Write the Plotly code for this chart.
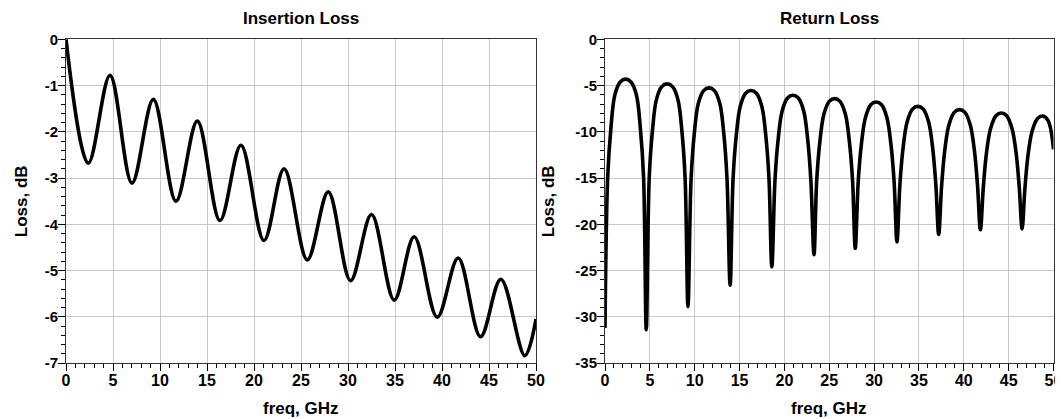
import plotly.graph_objects as go

# ---------------- data ----------------
# Insertion loss: extrema of the ripple (GHz, dB)
il_freq = [0, 2.37, 4.68, 7.02, 9.29, 11.7, 13.97, 16.38, 18.61, 21.06, 23.2,
           25.67, 27.9, 30.27, 32.5, 34.92, 37.04, 39.49, 41.72, 44.1, 46.26,
           48.81, 50]
il_db = [0, -2.68, -0.78, -3.11, -1.30, -3.50, -1.77, -3.92, -2.29, -4.35, -2.80,
         -4.77, -3.30, -5.22, -3.79, -5.64, -4.27, -6.01, -4.73, -6.43, -5.19,
         -6.84, -6.05]

# Return loss: nulls, arch sides and arch tops (GHz, dB)
rl_freq = [0.0,
           0.3, 0.65, 1.1, 1.7, 2.3, 2.9, 3.5, 3.95, 4.3, 4.6,
           4.93, 5.28, 5.73, 6.33, 6.93, 7.53, 8.13, 8.58, 8.93, 9.25,
           9.6, 9.95, 10.4, 11.0, 11.6, 12.2, 12.8, 13.25, 13.6, 13.95,
           14.28, 14.63, 15.08, 15.68, 16.28, 16.88, 17.48, 17.93, 18.28, 18.6,
           18.95, 19.3, 19.75, 20.35, 20.95, 21.55, 22.15, 22.6, 22.95, 23.3,
           23.6, 23.95, 24.4, 25.0, 25.6, 26.2, 26.8, 27.25, 27.6, 27.9,
           28.23, 28.58, 29.03, 29.63, 30.23, 30.83, 31.43, 31.88, 32.23, 32.55,
           32.88, 33.23, 33.68, 34.28, 34.88, 35.48, 36.08, 36.53, 36.88, 37.2,
           37.53, 37.88, 38.33, 38.93, 39.53, 40.13, 40.73, 41.18, 41.53, 41.85,
           42.18, 42.53, 42.98, 43.58, 44.18, 44.78, 45.38, 45.83, 46.18, 46.5,
           46.8, 47.15, 47.6, 48.2, 48.8, 49.4, 50.0]
rl_db = [-31.2,
         -14.9, -9.7, -6.01, -4.61, -4.31, -4.61, -6.01, -9.7, -14.9, -31.4,
         -15.0, -10.0, -6.52, -5.12, -4.82, -5.12, -6.52, -10.0, -15.0, -28.9,
         -15.05, -10.25, -6.95, -5.55, -5.25, -5.55, -6.95, -10.25, -15.05, -26.6,
         -15.04, -10.44, -7.24, -5.84, -5.54, -5.84, -7.24, -10.44, -15.04, -24.6,
         -15.25, -10.85, -7.75, -6.35, -6.05, -6.35, -7.75, -10.85, -15.25, -23.3,
         -15.31, -11.11, -8.11, -6.71, -6.41, -6.71, -8.11, -11.11, -15.31, -22.6,
         -15.38, -11.38, -8.48, -7.08, -6.78, -7.08, -8.48, -11.38, -15.38, -21.9,
         -15.65, -11.75, -8.95, -7.55, -7.25, -7.55, -8.95, -11.75, -15.65, -21.1,
         -15.8, -12.0, -9.3, -7.9, -7.6, -7.9, -9.3, -12.0, -15.8, -20.6,
         -15.97, -12.27, -9.67, -8.27, -7.97, -8.27, -9.67, -12.27, -15.97, -20.5,
         -16.3, -12.6, -10.0, -8.6, -8.3, -8.8, -11.9]

x_tickvals = [0, 5, 10, 15, 20, 25, 30, 35, 40, 45, 50]
x_ticktext = ["0", "5", "10", "15", "20", "25", "30", "35", "40", "45", "50"]
il_tickvals = [0, -1, -2, -3, -4, -5, -6, -7]
il_ticktext = ["0", "-1", "-2", "-3", "-4", "-5", "-6", "-7"]
rl_tickvals = [0, -5, -10, -15, -20, -25, -30, -35]
rl_ticktext = ["0", "-5", "-10", "-15", "-20", "-25", "-30", "-35"]

titles = ["Insertion Loss", "Return Loss"]
x_title = "freq, GHz"
y_title = "Loss, dB"

# ---------------- figure ----------------
# the page body has an 8 px margin, so the figure sits at (8, 8) in the window
OFF = 8
W, H = 1063 - OFF, 419 - OFF
FONT = "Arial, 'Liberation Sans', sans-serif"

fig = go.Figure()
fig.add_trace(go.Scatter(x=il_freq, y=il_db, mode="lines",
                         line=dict(color="#000000", width=3.6, shape="spline", smoothing=1),
                         xaxis="x", yaxis="y", showlegend=False, hoverinfo="x+y"))
fig.add_trace(go.Scatter(x=rl_freq, y=rl_db, mode="lines",
                         line=dict(color="#000000", width=3.6, shape="spline", smoothing=1),
                         xaxis="x2", yaxis="y2", showlegend=False, hoverinfo="x+y"))

# plot areas in window pixels -> figure pixels
L1, R1 = 66 - OFF, 536 - OFF
L2, R2 = 605 - OFF, 1053.5 - OFF
TOP, BOT = 39.3 - OFF, 363 - OFF

def px(x):
    return x / W

def py(y):
    return (H - y) / H

ydom = [py(BOT), py(TOP)]

common_x = dict(range=[0, 50], tickmode="array", tickvals=x_tickvals, ticktext=x_ticktext,
                ticks="outside", ticklen=7, tickwidth=1, tickcolor="#000",
                minor=dict(dtick=1, tick0=0, ticks="outside", ticklen=4, tickcolor="#000", showgrid=False),
                showgrid=True, gridcolor="#c8c8c8", gridwidth=1,
                showline=True, linecolor="#333", linewidth=1, mirror=True,
                zeroline=False, automargin=False, ticklabelstandoff=-4,
                tickfont=dict(family=FONT, size=16, color="#000", weight="bold"),
                fixedrange=True)
common_y = dict(ticks="outside", ticklen=7, tickwidth=1, tickcolor="#000",
                showgrid=True, gridcolor="#c8c8c8", gridwidth=1,
                showline=True, linecolor="#333", linewidth=1, mirror=True,
                zeroline=False, automargin=False, ticklabelstandoff=-3,
                tickfont=dict(family=FONT, size=15, color="#000", weight="bold"),
                fixedrange=True)

tfont = dict(family=FONT, size=17, color="#000", weight="bold")
annotations = [
    dict(text=titles[0], x=px((L1 + R1) / 2), y=py(18.6 - OFF), xanchor="center", yanchor="middle"),
    dict(text=titles[1], x=px((L2 + R2) / 2), y=py(18.6 - OFF), xanchor="center", yanchor="middle"),
    dict(text=x_title, x=px((L1 + R1) / 2), y=py(408.5 - OFF), xanchor="center", yanchor="middle"),
    dict(text=x_title, x=px((L2 + R2) / 2), y=py(408.5 - OFF), xanchor="center", yanchor="middle"),
    dict(text=y_title, x=px(21 - OFF), y=py((TOP + BOT) / 2), xanchor="center", yanchor="middle",
         textangle=-90),
    dict(text=y_title, x=px(548 - OFF), y=py((TOP + BOT) / 2), xanchor="center", yanchor="middle",
         textangle=-90),
]
for a in annotations:
    a.update(xref="paper", yref="paper", showarrow=False, font=tfont)

fig.update_layout(
    width=W, height=H, autosize=False,
    margin=dict(l=0, r=0, t=0, b=0, autoexpand=False),
    paper_bgcolor="white", plot_bgcolor="white",
    font=dict(family=FONT, color="#000"),
    xaxis=dict(domain=[px(L1), px(R1)], anchor="y", **common_x),
    xaxis2=dict(domain=[px(L2), px(R2)], anchor="y2", **common_x),
    yaxis=dict(domain=ydom, anchor="x", range=[-7, 0], tickmode="array",
               tickvals=il_tickvals, ticktext=il_ticktext,
               minor=dict(dtick=0.2, tick0=0, ticks="outside", ticklen=4, tickcolor="#000", showgrid=False),
               **common_y),
    yaxis2=dict(domain=ydom, anchor="x2", range=[-35, 0], tickmode="array",
                tickvals=rl_tickvals, ticktext=rl_ticktext,
                minor=dict(dtick=1, tick0=0, ticks="outside", ticklen=4, tickcolor="#000", showgrid=False),
                **common_y),
    annotations=annotations,
)

fig.write_html("out.html")
